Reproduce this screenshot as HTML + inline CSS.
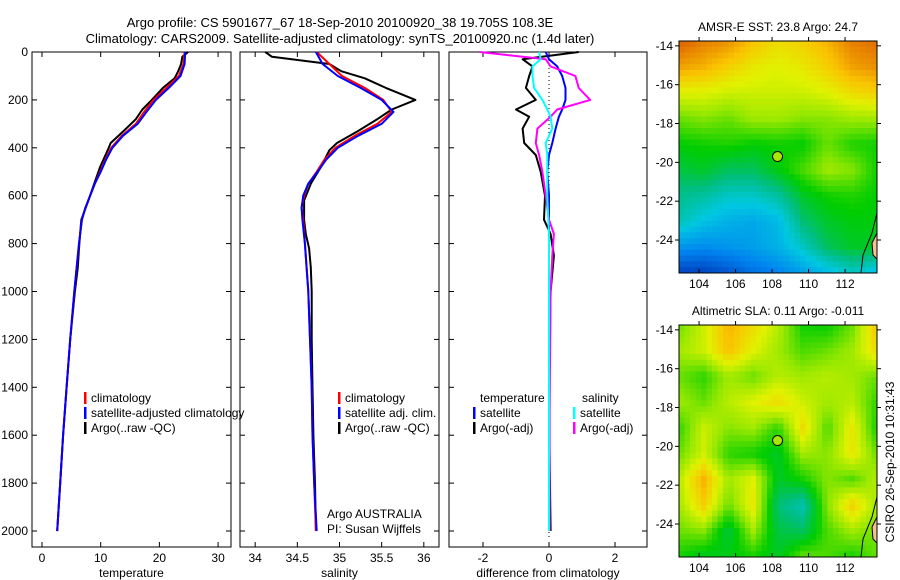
<!DOCTYPE html>
<html><head><meta charset="utf-8"><style>
body{margin:0;background:#fff}
svg{display:block;font-family:"Liberation Sans",sans-serif}
</style></head><body>
<svg id="fig" width="900" height="580" viewBox="0 0 900 580">
<g font-size="13" text-anchor="middle" fill="#000">
<text x="340" y="27">Argo profile: CS 5901677_67 18-Sep-2010 20100920_38 19.705S 108.3E</text>
<text x="340" y="43">Climatology: CARS2009. Satellite-adjusted climatology: synTS_20100920.nc (1.4d later)</text>
</g>
<text x="0" y="0" transform="translate(894,462) rotate(-90)" text-anchor="middle" font-size="12">CSIRO 26-Sep-2010 10:31:43</text>
</svg>
<script>
// ---- data ----
const depths = [0,50,100,150,200,250,300,350,400,450,500,550,600,650,700,800,1000,1200,1400,1600,1800,2000];
const tempClim = [24.3,24.1,23.3,21.2,19.0,17.4,16.0,13.6,11.8,10.8,9.9,9.0,8.2,7.4,6.8,6.3,5.5,4.8,4.2,3.6,3.1,2.6];
const tempSat  = [24.4,24.3,23.6,21.6,19.4,17.8,16.3,13.8,12.0,10.9,10.0,9.0,8.2,7.4,6.8,6.3,5.5,4.8,4.2,3.6,3.1,2.6];
const argoDepths = [0,20,50,80,110,150,200,240,280,330,380,410,480,550,620,700,760,820,900,1000,1200,1400,1600,1800,2000];
const tempArgo = [24.9,23.9,23.7,23.2,22.6,20.6,18.7,17.1,16.0,13.9,11.7,11.2,9.9,8.9,7.9,6.7,6.5,6.3,6.1,5.6,4.8,4.2,3.6,3.1,2.6];
const salClim = [34.73,34.88,35.03,35.30,35.52,35.62,35.45,35.18,34.95,34.82,34.73,34.63,34.58,34.55,34.57,34.59,34.63,34.65,34.67,34.68,34.70,34.72];
const salSat  = [34.72,34.80,34.98,35.25,35.50,35.64,35.50,35.22,34.98,34.84,34.74,34.63,34.57,34.55,34.56,34.59,34.63,34.65,34.67,34.68,34.70,34.73];
const salArgo = [34.12,34.20,34.88,35.02,35.30,35.55,35.90,35.62,35.45,35.22,34.97,34.88,34.78,34.66,34.58,34.58,34.60,34.64,34.66,34.67,34.67,34.68,34.69,34.71,34.72];
const diffDepths = [0,30,60,100,150,200,240,270,320,380,430,500,600,700,760,850,1000,1500,2000];
const diffTempSat = [-0.1,0.0,0.25,0.4,0.5,0.5,0.4,0.3,0.2,0.1,0.0,-0.05,0,0,0,0,0,0,0];
const diffSalSat  = [-0.3,-0.25,-0.5,-0.5,-0.45,-0.2,-0.05,0.05,0.1,-0.1,-0.05,-0.05,-0.05,-0.02,0,0,0,0,0];
const diffTempArgo = [0.9,-0.8,-0.5,-0.6,-0.7,-0.4,-1.0,-0.6,-0.8,-0.75,-0.4,-0.25,-0.12,-0.15,0.05,0.15,0.05,0.0,0.05];
const diffSalArgo  = [-2.1,-0.1,0.05,0.8,0.9,1.25,0.25,0.05,-0.35,-0.4,-0.3,-0.2,-0.1,0.0,0.15,0.1,0.05,0.02,0.02];
const tempTicks=[0,10,20,30], salTicks=[34,34.5,35,35.5,36], diffTicks=[-2,0,2];
const depthTicks=[0,200,400,600,800,1000,1200,1400,1600,1800,2000];
const sstGrid=[
[.92,.88,.86,.80,.76,.78,.82,.88,.90],
[.84,.82,.78,.74,.72,.74,.78,.84,.86],
[.72,.72,.70,.70,.70,.70,.72,.76,.78],
[.62,.64,.62,.66,.66,.64,.64,.66,.66],
[.55,.56,.57,.55,.56,.55,.62,.57,.56],
[.50,.52,.48,.48,.54,.60,.66,.64,.56],
[.44,.42,.38,.38,.42,.52,.56,.57,.55],
[.40,.34,.30,.28,.32,.46,.52,.54,.54],
[.24,.22,.24,.26,.30,.38,.48,.52,.52],
[.06,.06,.10,.16,.20,.26,.32,.38,.32]];
const slaGrid=[
[.62,.70,.82,.76,.68,.56,.55,.62,.80],
[.66,.70,.80,.72,.66,.60,.62,.66,.76],
[.62,.58,.66,.62,.68,.66,.68,.66,.62],
[.66,.62,.68,.72,.76,.70,.66,.68,.58],
[.58,.70,.64,.66,.58,.76,.60,.74,.56],
[.62,.70,.58,.56,.52,.66,.64,.74,.62],
[.68,.82,.66,.72,.52,.56,.64,.60,.68],
[.66,.78,.62,.74,.46,.40,.64,.78,.66],
[.62,.64,.50,.66,.50,.48,.60,.66,.62],
[.56,.52,.54,.56,.52,.62,.60,.56,.62]];
const lonTicks=[104,106,108,110,112], latTicks=[-14,-16,-18,-20,-22,-24];
const argoLon=108.3, argoLat=-19.7;

const NS='http://www.w3.org/2000/svg';
const svg=document.getElementById('fig');
function mk(tag,attrs,parent){const e=document.createElementNS(NS,tag);for(const k in attrs)e.setAttribute(k,attrs[k]);(parent||svg).appendChild(e);return e;}
function txt(s,x,y,anchor,parent){const t=mk('text',{x:x,y:y,'text-anchor':anchor||'middle','font-size':12},parent);t.textContent=s;return t;}

const top0=52, bot=547, py=d=>top0+d*0.2395;
function panel(name,x0,x1,xmin,xmax,ticks,xlabel,showY){
  const g=mk('g',{});
  
  
  const sx=v=>x0+(v-xmin)/(xmax-xmin)*(x1-x0);
  mk('rect',{x:x0,y:top0,width:x1-x0,height:bot-top0,fill:'none',stroke:'#000','stroke-width':1},g);
  ticks.forEach(t=>{const x=sx(t);mk('line',{x1:x,x2:x,y1:bot,y2:bot-5,stroke:'#000'},g);mk('line',{x1:x,x2:x,y1:top0,y2:top0+5,stroke:'#000'},g);const l=txt(String(t),x,562,'middle',g);});
  depthTicks.forEach(d=>{const y=py(d);mk('line',{x1:x0,x2:x0+5,y1:y,y2:y,stroke:'#000'},g);mk('line',{x1:x1,x2:x1-5,y1:y,y2:y,stroke:'#000'},g);if(showY){const l=txt(String(d),x0-4,y+4,'end',g);}});
  const xl=txt(xlabel,(x0+x1)/2,577,'middle',g);
  
  
  return {g,sx};
}
function line(p,ds,vs,color,w,name){
  const pts=ds.map((d,i)=>p.sx(vs[i]).toFixed(1)+','+py(d).toFixed(1)).join(' ');
  const e=mk('polyline',{points:pts,fill:'none',stroke:color,'stroke-width':w,'stroke-linejoin':'round'},p.g);
  
  
}
function legend(p,x,y,items){
  items.forEach((it,i)=>{const yy=y+i*15;mk('rect',{x:x,y:yy-10,width:2.5,height:12,fill:it[1]},p.g);const t=txt(it[0],x+7,yy,'start',p.g);});
}
const p1=panel('temperature-panel',32,231,-1.7,32.2,tempTicks,'temperature',true);
line(p1,argoDepths,tempArgo,'#000',2,'argo-temperature-line');
line(p1,depths,tempClim,'#f00',2,'climatology-temperature-line');
line(p1,depths,tempSat,'#00f',2,'satellite-temperature-line');
legend(p1,84,402,[['climatology','#f00'],['satellite-adjusted climatology','#00f'],['Argo(..raw -QC)','#000']]);

const p2=panel('salinity-panel',240,439,33.82,36.18,salTicks,'salinity',false);
line(p2,argoDepths,salArgo,'#000',2,'argo-salinity-line');
line(p2,depths,salClim,'#f00',2,'climatology-salinity-line');
line(p2,depths,salSat,'#00f',2,'satellite-salinity-line');
legend(p2,338,402,[['climatology','#f00'],['satellite adj. clim.','#00f'],['Argo(..raw -QC)','#000']]);
txt('Argo AUSTRALIA',327,518,'start',p2.g);
txt('PI: Susan Wijffels',327,533,'start',p2.g);

const p3=panel('difference-panel',449,647,-3.03,2.97,diffTicks,'difference from climatology',false);
mk('line',{x1:p3.sx(0),x2:p3.sx(0),y1:top0,y2:bot-10,stroke:'#000','stroke-dasharray':'1,3'},p3.g);
line(p3,diffDepths,diffTempArgo,'#000',2,'argo-temp-diff-line');
line(p3,diffDepths,diffTempSat,'#00f',2,'satellite-temp-diff-line');
line(p3,diffDepths,diffSalArgo,'#f0f',2,'argo-sal-diff-line');
line(p3,diffDepths,diffSalSat,'#0ff',2,'satellite-sal-diff-line');
txt('temperature',480,402,'start',p3.g);
txt('salinity',582,402,'start',p3.g);
legend(p3,473,417,[['satellite','#00f'],['Argo(-adj)','#000']]);
legend(p3,573,417,[['satellite','#0ff'],['Argo(-adj)','#f0f']]);

// colormap
const stops=[[0,[0,40,170]],[0.2,[0,130,240]],[0.35,[0,200,225]],[0.45,[0,190,130]],[0.55,[0,205,0]],[0.65,[150,232,0]],[0.72,[225,242,0]],[0.8,[250,195,0]],[0.9,[225,110,0]],[1,[200,70,0]]];
function cmap(v){for(let i=1;i<stops.length;i++){if(v<=stops[i][0]){const a=stops[i-1],b=stops[i],f=(v-a[0])/(b[0]-a[0]);return 'rgb('+a[1].map((c,k)=>Math.round(c+(b[1][k]-c)*f)).join(',')+')';}}return 'rgb(200,70,0)';}
function mapPanel(name,title,grid,x0,x1,y0,y1){
  const g=mk('g',{});
  
  
  const lonMin=102.9,lonMax=113.75,latMax=-13.75,latMin=-25.7;
  const sx=l=>x0+(l-lonMin)/(lonMax-lonMin)*(x1-x0);
  const sy=l=>y0+(latMax-l)/(latMax-latMin)*(y1-y0);
  const R=grid.length,C=grid[0].length,cw=5.5,ch=5.8;
  const nx=Math.ceil((x1-x0)/cw),ny=Math.ceil((y1-y0)/ch);
  for(let j=0;j<ny;j++)for(let i=0;i<nx;i++){
    const gx=(i+0.5)/nx*(C-1),gy=(j+0.5)/ny*(R-1);
    const i0=Math.floor(gx),j0=Math.floor(gy),i1=Math.min(i0+1,C-1),j1=Math.min(j0+1,R-1),fx=gx-i0,fy=gy-j0;
    const v=grid[j0][i0]*(1-fx)*(1-fy)+grid[j0][i1]*fx*(1-fy)+grid[j1][i0]*(1-fx)*fy+grid[j1][i1]*fx*fy;
    mk('rect',{x:x0+i*cw,y:y0+j*ch,width:cw+0.5,height:ch+0.5,fill:cmap(v)},g);
  }
  mk('path',{d:`M${x1} ${y1-60} L${x1-5} ${y1-40} L${x1-14} ${y1-18} L${x1-16} ${y1}`,fill:'none',stroke:'#000','stroke-width':1},g);
  mk('path',{d:`M${x1} ${y1-40} L${x1-5} ${y1-30} L${x1-4} ${y1-18} L${x1} ${y1-14} Z`,fill:'#f8c090',stroke:'#000','stroke-width':1},g);
  mk('rect',{x:x0,y:y0,width:x1-x0,height:y1-y0,fill:'none',stroke:'#000'},g);
  lonTicks.forEach(l=>{const x=sx(l);mk('line',{x1:x,x2:x,y1:y1,y2:y1-4,stroke:'#000'},g);mk('line',{x1:x,x2:x,y1:y0,y2:y0-4,stroke:'#000'},g);const t=txt(String(l),x,y1+15,'middle',g);});
  latTicks.forEach(l=>{const y=sy(l);mk('line',{x1:x0,x2:x0-4,y1:y,y2:y,stroke:'#000'},g);mk('line',{x1:x1,x2:x1+4,y1:y,y2:y,stroke:'#000'},g);const t=txt(String(l),x0-6,y+4,'end',g);});
  const c=mk('circle',{cx:sx(argoLon),cy:sy(argoLat),r:5,fill:'#a8e800',stroke:'#000','stroke-width':1},g);
  
  
  const tt=txt(title,(x0+x1)/2,y0-10,'middle',g);
  
  
}
mapPanel('sst-map','AMSR-E SST: 23.8 Argo: 24.7',sstGrid,679,877,41,273);
mapPanel('sla-map','Altimetric SLA: 0.11 Argo: -0.011',slaGrid,679,877,325,557);
</script>
</body></html>
